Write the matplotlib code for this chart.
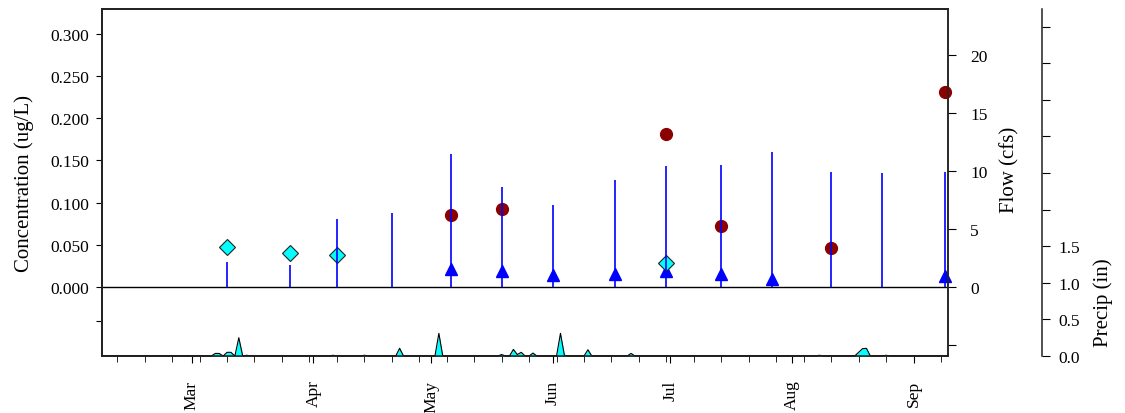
import matplotlib
matplotlib.use('Agg')
import matplotlib.pyplot as plt
import matplotlib.dates as mdates
import numpy as np
import pandas as pd

plt.rcParams['font.family'] = ['Liberation Serif', 'DejaVu Serif']

# sampling events
sample_dates = ['2013-03-10', '2013-03-26', '2013-04-07', '2013-04-21', '2013-05-06',
                '2013-05-19', '2013-06-01', '2013-06-17', '2013-06-30', '2013-07-14',
                '2013-07-27', '2013-08-11', '2013-08-24', '2013-09-09']
flow_cfs = [2.13, 1.9, 5.86, 6.4, 11.5, 8.6, 7.07, 9.2, 10.4, 10.5, 11.6, 9.9, 9.8, 9.9]

# detected concentrations (circles)
det_dates = ['2013-05-06', '2013-05-19', '2013-06-30', '2013-07-14', '2013-08-11', '2013-09-09']
det_conc = [0.085, 0.092, 0.181, 0.072, 0.046, 0.231]

# diamonds
nd_dates = ['2013-03-10', '2013-03-26', '2013-04-07', '2013-06-30']
nd_conc = [0.048, 0.040, 0.038, 0.028]

# triangles
tri_dates = ['2013-05-06', '2013-05-19', '2013-06-01', '2013-06-17', '2013-06-30',
             '2013-07-14', '2013-07-27', '2013-09-09']
tri_conc = [0.021, 0.019, 0.0145, 0.015, 0.019, 0.016, 0.0097, 0.0136]

# daily precipitation, days with rain only (all other days are 0)
rain_days = ['2013-03-07', '2013-03-08', '2013-03-10', '2013-03-11', '2013-03-13',
             '2013-03-15', '2013-04-06', '2013-04-14', '2013-04-23', '2013-05-03',
             '2013-05-19', '2013-05-22', '2013-05-23', '2013-05-24', '2013-05-27',
             '2013-06-03', '2013-06-04', '2013-06-10', '2013-06-21', '2013-08-08',
             '2013-08-18', '2013-08-19', '2013-08-20', '2013-08-25']
rain_in = [0.035, 0.035, 0.05, 0.05, 0.25,
           0.01, 0.01, 0.01, 0.105, 0.31,
           0.02, 0.09, 0.02, 0.05, 0.04,
           0.31, 0.01, 0.085, 0.035, 0.01,
           0.05, 0.1, 0.105, 0.01]

days = pd.date_range('2013-02-05', '2013-09-11', freq='D')
precip = pd.Series(0.0, index=days)
precip[pd.to_datetime(rain_days)] = rain_in

fig = plt.figure(figsize=(11.25, 4.14), dpi=100)
ax = fig.add_axes([102 / 1125, 1 - 357 / 414, 846 / 1125, 347 / 414])
ax_flow = ax.twinx()
ax_p = ax.twinx()
ax_p.spines['right'].set_position(('outward', 67.7))

ax.axhline(0, color='black', lw=1.0, zorder=1)
ax.plot(pd.to_datetime(tri_dates), tri_conc, '^', color='blue', ms=8.5, zorder=2, clip_on=False)
ax.plot(pd.to_datetime(nd_dates), nd_conc, 'D', mfc='cyan', mec='#222222', mew=0.8, ms=8, zorder=3)
ax.plot(pd.to_datetime(det_dates), det_conc, 'o', color='darkred', ms=8.5, zorder=3, clip_on=False)

ax_flow.vlines(pd.to_datetime(sample_dates), 0, flow_cfs, color='blue', lw=1.2)

ax_p.fill_between(precip.index, precip.values, 0, color='cyan', lw=0)
ax_p.plot(precip.index, precip.values, color='black', lw=0.8)

ax.set_xlim(pd.Timestamp('2013-02-06 03:00'), pd.Timestamp('2013-09-09 19:00'))
ax.set_ylim(-0.0818, 0.3296)
ax_flow.set_ylim(-5.95, 23.97)
ax_p.set_ylim(0, 4.74)

ax.set_yticks([-0.04, 0, 0.05, 0.1, 0.15, 0.2, 0.25, 0.3])
ax.set_yticklabels(['', '0.000', '0.050', '0.100', '0.150', '0.200', '0.250', '0.300'])
ax_flow.set_yticks([-5, 0, 5, 10, 15, 20])
ax_flow.set_yticklabels(['', '0', '5', '10', '15', '20'])
ax_p.set_yticks(np.arange(0, 4.6, 0.5))
ax_p.set_yticklabels(['0.0', '0.5', '1.0', '1.5'] + [''] * 6)

ax.xaxis.set_major_locator(mdates.MonthLocator())
ax.xaxis.set_major_formatter(mdates.DateFormatter('%b'))
ax.xaxis.set_minor_locator(mdates.WeekdayLocator(byweekday=mdates.SU))

ax.tick_params(axis='x', which='major', length=5, pad=12, labelrotation=90, labelsize=12.5)
ax.tick_params(axis='x', which='minor', length=4)
ax.tick_params(axis='y', length=4, pad=5, labelsize=12.5)
ax_flow.tick_params(axis='y', length=6, pad=10, labelsize=12.5)
ax_p.tick_params(axis='y', length=6, pad=6, labelsize=12.5)

for a in (ax, ax_flow, ax_p):
    for s in a.spines.values():
        s.set_linewidth(1.1)
        s.set_color('#222222')

ax.set_ylabel('Concentration (ug/L)', fontsize=15, labelpad=12)
ax_flow.set_ylabel('Flow (cfs)', fontsize=15, labelpad=9)
ax_p.set_ylabel('Precip (in)', fontsize=15, labelpad=9)
# the two right-hand labels sit beside their own scale ranges
ax_flow.yaxis.label.set_y(0.54)
ax_p.yaxis.label.set_y(0.156)

fig.savefig('out.png', dpi=100)
